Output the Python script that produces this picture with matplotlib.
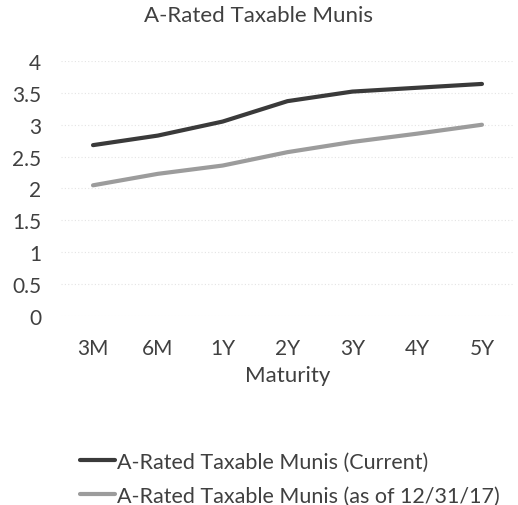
import matplotlib
matplotlib.use("Agg")
import matplotlib.pyplot as plt

plt.rcParams['font.family'] = ['Lato', 'DejaVu Sans']

maturities = ['3M', '6M', '1Y', '2Y', '3Y', '4Y', '5Y']
current = [2.68, 2.83, 3.05, 3.37, 3.52, 3.58, 3.64]
year_end = [2.05, 2.23, 2.36, 2.57, 2.73, 2.86, 3.00]

fig = plt.figure(figsize=(5.18, 5.06), dpi=100)
ax = fig.add_axes([0.117, 0.3735, 0.876, 0.504])

x = range(len(maturities))
ax.plot(x, current, color='#3a3a3a', lw=3.0, solid_capstyle='round',
        solid_joinstyle='round', label='A-Rated Taxable Munis (Current)')
ax.plot(x, year_end, color='#9c9c9c', lw=3.0, solid_capstyle='round',
        solid_joinstyle='round', label='A-Rated Taxable Munis (as of 12/31/17)')

ax.set_xlim(-0.5, len(maturities) - 0.5)
ax.set_ylim(0, 4)
ax.set_yticks([0, 0.5, 1, 1.5, 2, 2.5, 3, 3.5, 4])
ax.set_yticklabels(['0', '0.5', '1', '1.5', '2', '2.5', '3', '3.5', '4'])
ax.set_xticks(list(x))
ax.set_xticklabels(maturities)
ax.yaxis.grid(True, color='#e4e4e4', lw=0.8, linestyle=(0, (1, 2)))
ax.set_axisbelow(True)
for s in ax.spines.values():
    s.set_visible(False)
ax.tick_params(length=0, labelsize=15, colors='#404040')
ax.tick_params(axis='y', pad=14)
ax.tick_params(axis='x', pad=16)

ax.set_xlabel('Maturity', fontsize=16, color='#404040', labelpad=5)
fig.text(0.5, 0.968, 'A-Rated Taxable Munis', ha='center', va='center',
         fontsize=16, color='#404040')

fig.legend(loc='upper left', bbox_to_anchor=(0.138, 0.123), frameon=False,
           fontsize=15.5, handlelength=1.6, handletextpad=0.1, labelspacing=0.65,
           borderaxespad=0, labelcolor='#404040', bbox_transform=fig.transFigure)

fig.savefig('out.png', dpi=100)
